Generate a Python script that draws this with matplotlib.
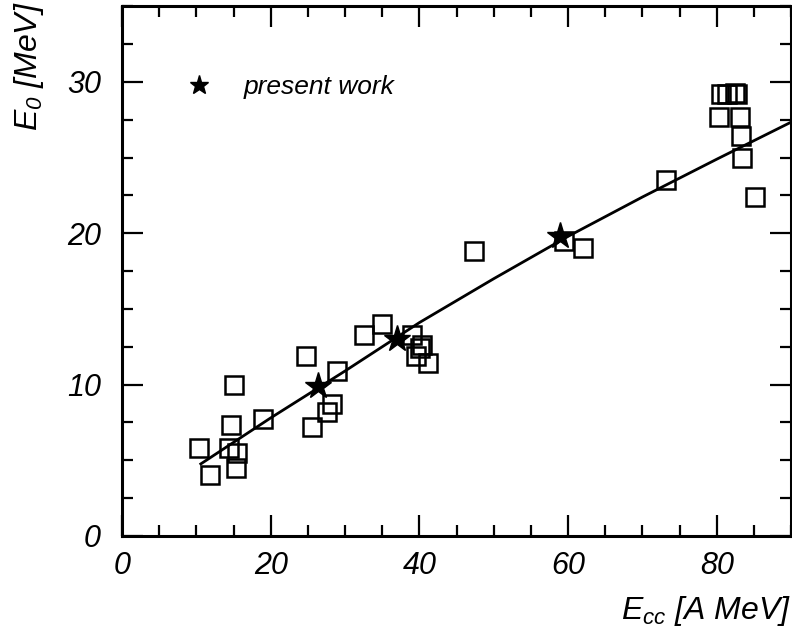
import numpy as np
import matplotlib
matplotlib.use("Agg")
import matplotlib.pyplot as plt
from matplotlib.ticker import MultipleLocator

plt.rcParams['font.family'] = ['Liberation Sans', 'DejaVu Sans']
plt.rcParams['font.style'] = 'italic'
plt.rcParams['mathtext.fontset'] = 'custom'
plt.rcParams['mathtext.it'] = 'Liberation Sans:italic'
plt.rcParams['mathtext.rm'] = 'Liberation Sans:italic'

# systematics from other experiments (open squares)
ecc_lit = [10.3, 11.9, 14.6, 15.0, 14.4, 15.5, 15.3, 19.0, 24.8, 25.5,
           28.9, 28.3, 27.6, 32.5, 35.0, 39.0, 40.1, 39.5, 41.2, 40.3,
           47.3, 59.4, 62.0, 73.2, 85.1, 83.4, 83.3, 80.3, 83.1,
           80.6, 81.4, 82.4, 82.7]
e0_lit = [5.8, 4.0, 7.3, 10.0, 5.8, 5.5, 4.5, 7.7, 11.9, 7.2,
          10.9, 8.7, 8.2, 13.3, 14.0, 13.3, 12.4, 11.9, 11.4, 12.6,
          18.8, 19.5, 19.0, 23.5, 22.4, 25.0, 26.4, 27.7, 27.7,
          29.2, 29.2, 29.3, 29.2]

# this work (stars)
ecc_now = [26.3, 37.0, 58.9]
e0_now = [9.9, 13.0, 19.85]

# systematic trend line
ecc_fit = [10.6, 20, 30, 40, 50, 60, 70, 80, 90]
e0_fit = [4.76, 7.8, 10.9, 14.1, 17.0, 19.8, 22.4, 24.9, 27.35]

fig = plt.figure(figsize=(7.92, 6.32), dpi=100)
ax = fig.add_axes([0.154, 0.152, 0.845, 0.838])

ax.plot(ecc_fit, e0_fit, color='black', lw=2.0, zorder=2)
ax.plot(ecc_lit, e0_lit, ls='none', marker='s', ms=12.5, mfc='none',
        mec='black', mew=1.8, zorder=3)
ax.plot(ecc_now, e0_now, ls='none', marker='*', ms=20,
        color='black', zorder=4)

ax.legend([plt.Line2D([], [], ls='none', marker='*', ms=14, color='black')],
          ['present work'], loc='upper left', bbox_to_anchor=(0.06, 0.915),
          frameon=False, handletextpad=1.2, handlelength=1.0,
          prop={'family': 'Liberation Sans', 'style': 'italic', 'size': 19})

ax.set_xlim(0, 90)
ax.set_ylim(0, 35)
ax.xaxis.set_major_locator(MultipleLocator(20))
ax.xaxis.set_minor_locator(MultipleLocator(5))
ax.yaxis.set_major_locator(MultipleLocator(10))
ax.yaxis.set_minor_locator(MultipleLocator(2.5))
ax.tick_params(which='both', direction='in', top=True, right=True, width=1.6)
ax.tick_params(which='major', length=15, labelsize=22)
ax.tick_params(which='minor', length=8)
ax.tick_params(axis='x', which='major', pad=11)
ax.tick_params(axis='y', which='major', pad=15)
for s in ax.spines.values():
    s.set_linewidth(2.2)

fig.text(0.998, 0.02, r'$E_{cc}$ [A MeV]', ha='right', va='baseline', fontsize=23)
fig.text(0.036, 0.998, r'$E_0$ [MeV]', ha='center', va='top', rotation=90, fontsize=23)

fig.savefig('out.png', dpi=100)
